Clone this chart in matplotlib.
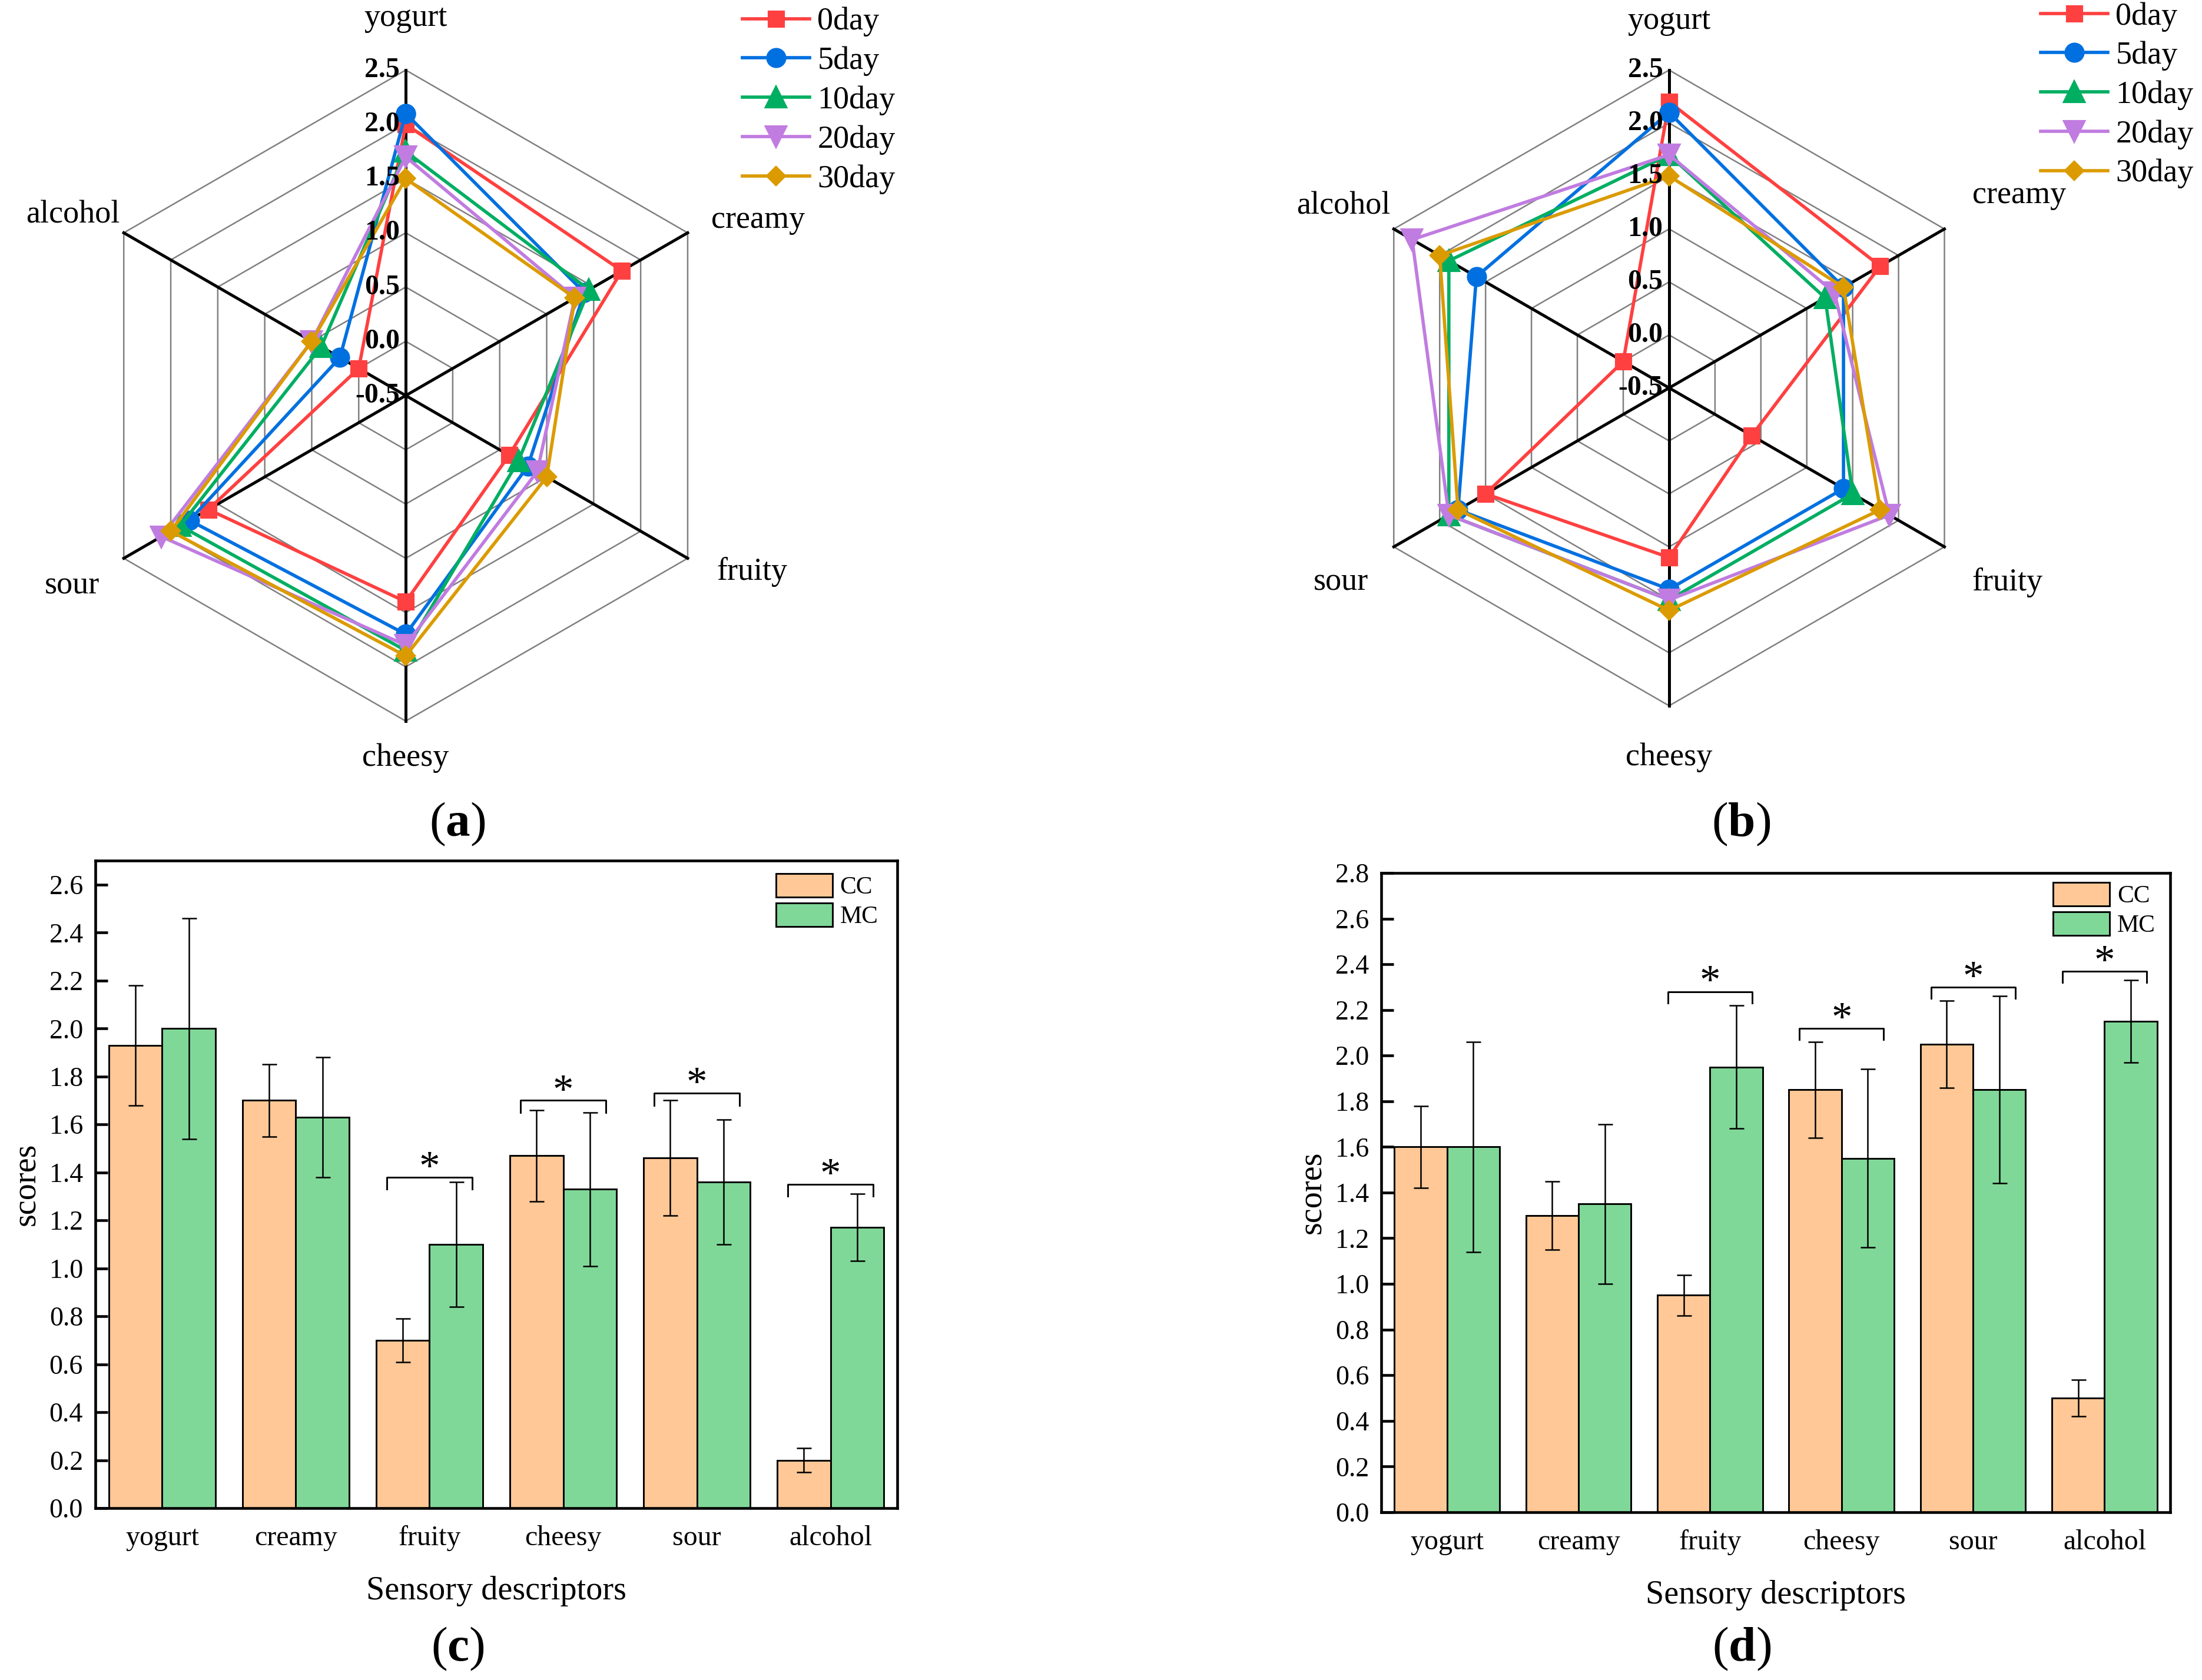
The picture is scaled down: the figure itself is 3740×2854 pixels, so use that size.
import numpy as np
import matplotlib
matplotlib.use('Agg')
import matplotlib.pyplot as plt
from matplotlib.transforms import offset_copy

plt.rcParams['font.family'] = 'Liberation Serif'
plt.rcParams['mathtext.fontset'] = 'custom'
plt.rcParams['mathtext.rm'] = 'Liberation Serif'
plt.rcParams['mathtext.bf'] = 'Liberation Serif:bold'

# ---- data ----
descriptors = ['yogurt', 'creamy', 'fruity', 'cheesy', 'sour', 'alcohol']
days = ['0day', '5day', '10day', '20day', '30day']
ring_levels = [-0.5, 0.0, 0.5, 1.0, 1.5, 2.0, 2.5]

# radar (a)
a_0day = [2.0, 1.8, 0.6, 1.4, 1.6, 0.0]
a_5day = [2.1, 1.4, 0.8, 1.7, 1.8, 0.2]
a_10day = [1.75, 1.45, 0.7, 1.85, 1.9, 0.4]
a_20day = [1.7, 1.3, 0.9, 1.8, 2.1, 0.5]
a_30day = [1.5, 1.3, 1.0, 1.9, 2.0, 0.5]

# radar (b)
b_0day = [2.2, 1.8, 0.4, 1.1, 1.5, 0.0]
b_5day = [2.1, 1.4, 1.4, 1.4, 1.8, 1.6]
b_10day = [1.7, 1.2, 1.5, 1.5, 1.9, 1.9]
b_20day = [1.7, 1.3, 1.9, 1.5, 1.9, 2.3]
b_30day = [1.5, 1.4, 1.8, 1.6, 1.8, 2.0]

# bars (c)
c_cc = [1.93, 1.70, 0.70, 1.47, 1.46, 0.20]
c_cc_err = [0.25, 0.15, 0.09, 0.19, 0.24, 0.05]
c_mc = [2.00, 1.63, 1.10, 1.33, 1.36, 1.17]
c_mc_err = [0.46, 0.25, 0.26, 0.32, 0.26, 0.14]
c_sig_idx = [2, 3, 4, 5]
c_sig_y = [1.38, 1.70, 1.73, 1.35]

# bars (d)
d_cc = [1.60, 1.30, 0.95, 1.85, 2.05, 0.50]
d_cc_err = [0.18, 0.15, 0.09, 0.21, 0.19, 0.08]
d_mc = [1.60, 1.35, 1.95, 1.55, 1.85, 2.15]
d_mc_err = [0.46, 0.35, 0.27, 0.39, 0.41, 0.18]
d_sig_idx = [2, 3, 4, 5]
d_sig_y = [2.28, 2.12, 2.30, 2.37]

day_colors = ['#FF4040', '#0070E0', '#00AE62', '#C07CE0', '#DB9B00']
day_markers = ['s', 'o', '^', 'v', 'D']
day_msize = [6.0, 7.2, 8.0, 8.0, 5.2]
cc_color = '#FFC896'
mc_color = '#80D898'

fig = plt.figure(figsize=(3740 / 300, 2854 / 300), dpi=300)


def radar(rect, series, label_pos, legend_anchor):
    ax = fig.add_axes(rect, projection='polar')
    ax.set_theta_offset(np.pi / 2)
    ax.set_theta_direction(-1)
    ax.set_ylim(-0.5, 2.5)
    ax.set_xticks([])
    ax.set_yticks([])
    ax.grid(False)
    ax.spines['polar'].set_visible(False)
    ax.patch.set_visible(False)
    theta = np.deg2rad(np.arange(len(descriptors)) * 60)
    closed = np.append(theta, theta[0])
    for r in ring_levels[1:]:
        ax.plot(closed, [r] * len(closed), color='#808080', lw=0.6, zorder=1, clip_on=False)
    for t in theta:
        ax.plot([t, t], [-0.5, 2.5], color='black', lw=1.2, zorder=2, clip_on=False)
    lines = []
    for vals, c, m, ms, lab in zip(series, day_colors, day_markers, day_msize, days):
        v = np.append(vals, vals[0])
        ln, = ax.plot(closed, v, color=c, marker=m, markersize=ms, lw=1.35,
                      markeredgecolor=c, label=lab, zorder=3, clip_on=False)
        lines.append(ln)
    tr = offset_copy(ax.transData, fig=fig, x=-2.5, y=0, units='points')
    for v in ring_levels:
        ax.text(0, v, f'{v:.1f}', transform=tr, ha='right', va='center',
                fontsize=11.5, fontweight='bold', zorder=5)
    for name, (ang, r) in zip(descriptors, label_pos):
        ax.text(np.deg2rad(ang), r, name, ha='center', va='center', fontsize=13)
    fig.legend(lines, days, loc='upper left', bbox_to_anchor=legend_anchor,
               bbox_transform=fig.transFigure, frameon=False, borderpad=0,
               borderaxespad=0, handlelength=2.1, handletextpad=0.25,
               labelspacing=0.3, fontsize=13)
    return ax


a_label_pos = [(0, 2.98), (63.5, 3.13), (117, 3.08), (180, 2.84), (240.3, 3.04), (298.5, 2.99)]
b_label_pos = [(0, 2.96), (61.2, 3.27), (119.9, 3.18), (180, 2.99), (239.4, 3.1), (299.2, 3.02)]

radar([0.0364, 0.5708, 0.2957, 0.3875],
      [a_0day, a_5day, a_10day, a_20day, a_30day], a_label_pos,
      (1261 / 3740, 1 - 12 / 2854))
radar([0.6136, 0.5799, 0.2888, 0.3784],
      [b_0day, b_5day, b_10day, b_20day, b_30day], b_label_pos,
      (3466 / 3740, 1 - 3 / 2854))


def bars(rect, cc, cc_err, mc, mc_err, ymax, sig_idx, sig_y, leg_anchor):
    ax = fig.add_axes(rect)
    x = np.arange(len(descriptors))
    ekw = dict(elinewidth=0.6, capthick=0.6, ecolor='black')
    ax.bar(x - 0.2, cc, 0.4, yerr=cc_err, capsize=3, color=cc_color,
           edgecolor='black', linewidth=0.7, error_kw=ekw, label='CC')
    ax.bar(x + 0.2, mc, 0.4, yerr=mc_err, capsize=3, color=mc_color,
           edgecolor='black', linewidth=0.7, error_kw=ekw, label='MC')
    for i, y in zip(sig_idx, sig_y):
        ax.plot([i - 0.32, i - 0.32, i + 0.32, i + 0.32], [y - 0.05, y, y, y - 0.05],
                color='black', lw=0.7)
        ax.text(i, y - 0.01, '*', ha='center', va='baseline', fontsize=17)
    ax.set_xlim(-0.5, 5.5)
    ax.set_ylim(0, ymax)
    ax.set_yticks(np.arange(0, ymax + 0.01, 0.2))
    ax.set_yticklabels([f'{t:.1f}' for t in np.arange(0, ymax + 0.01, 0.2)])
    ax.set_xticks(x)
    ax.set_xticklabels(descriptors)
    ax.tick_params(axis='y', direction='in', length=5, width=1.1, pad=5, labelsize=11)
    ax.tick_params(axis='x', length=0, pad=7, labelsize=11.5)
    for s in ax.spines.values():
        s.set_linewidth(1.1)
    ax.set_xlabel('Sensory descriptors', fontsize=13.5, labelpad=10)
    ax.set_ylabel('scores', fontsize=13.5, labelpad=3)
    ax.legend(loc='upper right', bbox_to_anchor=leg_anchor, frameon=False,
              borderpad=0, borderaxespad=0, handlelength=2.3, handleheight=1.1,
              handletextpad=0.3, labelspacing=0.15, fontsize=10)
    return ax


bars([0.0433, 0.1023, 0.3642, 0.3854], c_cc, c_cc_err, c_mc, c_mc_err, 2.7,
     c_sig_idx, c_sig_y, (0.976, 0.98))
bars([0.6273, 0.0999, 0.3583, 0.3805], d_cc, d_cc_err, d_mc, d_mc_err, 2.8,
     d_sig_idx, d_sig_y, (0.981, 0.985))

for lab, (px, py) in zip('abcd', [(777, 1400), (2957, 1400), (777, 2801), (2958, 2801)]):
    fig.text(px / 3740, 1 - py / 2854, '($\\mathbf{' + lab + '}$)', ha='center',
             va='center', fontsize=20)

fig.savefig('out.png', dpi=300)
